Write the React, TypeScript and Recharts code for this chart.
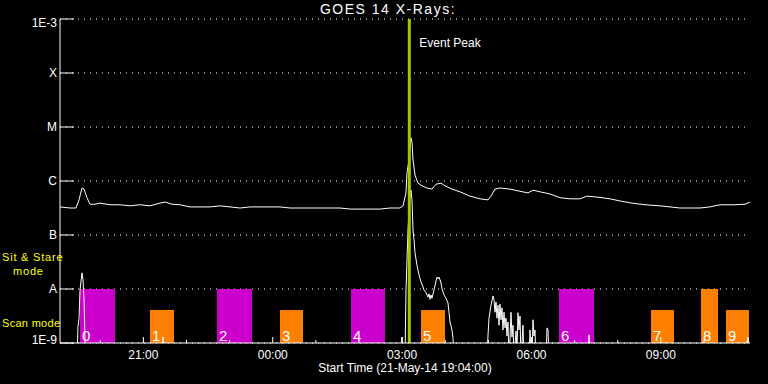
import {
  ComposedChart,
  Line,
  XAxis,
  YAxis,
  CartesianGrid,
  ReferenceArea,
  ReferenceLine,
} from 'recharts';

// time axis: hours since 21-May-14 19:04:00
const START_LABEL = 'Start Time (21-May-14 19:04:00)';
const DOMAIN_HOURS = 16;
const EVENT_PEAK_HOURS = 8.1; // ~03:10

const hourTickLabels = [
  '20:00', '21:00', '22:00', '23:00', '00:00', '01:00', '02:00', '03:00',
  '04:00', '05:00', '06:00', '07:00', '08:00', '09:00', '10:00', '11:00',
];
const majorTickLabels = ['21:00', '00:00', '03:00', '06:00', '09:00'];
const FIRST_TICK_HOURS = 56 / 60; // 20:00 is 56 min after start
const hourTicks = hourTickLabels.map((_, i) => FIRST_TICK_HOURS + i);

// flux axis, log10(W/m^2)
const levelTicks = [-9, -8, -7, -6, -5, -4, -3];
const levelLabels = ['1E-9', 'A', 'B', 'C', 'M', 'X', '1E-3'];

// GOES 1-8 A channel
const longTime = [
  0, 0.232, 0.371, 0.441, 0.51, 0.557, 0.626, 0.696, 0.812, 0.928, 1.159, 1.391,
  1.623, 1.855, 2.087, 2.319, 2.435, 2.597, 2.783, 3.014, 3.246, 3.478, 3.71, 3.942,
  4.174, 4.406, 4.638, 4.87, 5.101, 5.333, 5.565, 5.797, 6.029, 6.261, 6.493, 6.725,
  6.957, 7.188, 7.42, 7.652, 7.884, 7.954, 8.023, 8.046, 8.093, 8.139, 8.162, 8.186,
  8.232, 8.301, 8.394, 8.51, 8.626, 8.719, 8.835, 8.928, 9.09, 9.275, 9.507, 9.739,
  9.925, 9.994, 10.087, 10.203, 10.435, 10.667, 10.852, 10.968, 11.13, 11.362, 11.594,
  11.826, 12.058, 12.22, 12.475, 12.754, 12.986, 13.264, 13.565, 13.913, 14.377,
  14.841, 15.072, 15.304, 15.652, 15.884, 16,
];
const longFlux = [
  -6.48, -6.5, -6.5, -6.35, -6.13, -6.15, -6.31, -6.43, -6.43, -6.41, -6.44, -6.44,
  -6.46, -6.44, -6.46, -6.41, -6.39, -6.43, -6.44, -6.48, -6.48, -6.48, -6.46, -6.48,
  -6.5, -6.48, -6.48, -6.48, -6.48, -6.5, -6.5, -6.5, -6.5, -6.5, -6.5, -6.52,
  -6.52, -6.52, -6.52, -6.5, -6.5, -6.46, -6.22, -5.85, -5.61, -5.2, -5.28, -5.61,
  -5.89, -6.04, -6.09, -6.13, -6.15, -6.06, -6.04, -6.09, -6.15, -6.2, -6.28, -6.33,
  -6.35, -6.28, -6.15, -6.13, -6.15, -6.19, -6.22, -6.17, -6.2, -6.24, -6.31,
  -6.33, -6.33, -6.28, -6.3, -6.33, -6.37, -6.41, -6.44, -6.46, -6.5,
  -6.5, -6.48, -6.44, -6.44, -6.43, -6.39,
];

// GOES 0.5-4 A channel (mostly under 1E-9)
const shortTime = [
  0, 0.394, 0.417, 0.441, 0.464, 0.51, 0.533, 0.557, 0.58, 0.603,
  2.365, 2.388, 2.412, 7.907, 7.93, 7.954, 8.0, 8.023, 8.07, 8.116, 8.139, 8.162,
  8.186, 8.209, 8.232, 8.278, 8.325, 8.371, 8.417, 8.441, 8.487, 8.533, 8.557, 8.58,
  8.603, 8.626, 8.672, 8.719, 8.742, 8.765, 8.788, 8.812, 8.835, 8.858, 8.904, 8.951,
  8.997, 9.02, 9.043, 9.09, 9.113, 9.136, 9.901, 9.925, 9.948, 9.994, 10.041, 10.064,
  10.087, 10.11, 10.133, 10.157, 10.18, 10.203, 10.226, 10.249, 10.272, 10.296, 10.319,
  10.342, 10.365, 10.388, 10.412, 10.435, 10.458, 10.481, 10.504, 10.528, 10.574,
  10.597, 10.62, 10.643, 10.667, 10.69, 10.736, 10.759, 10.875, 10.899, 10.922, 10.945,
  10.968, 10.991, 11.014, 11.038, 11.27, 11.293, 11.316, 11.339, 12.243, 12.267, 12.29,
  15.93, 15.954, 15.977, 16,
];
const shortFlux = [
  -9.3, -9.3, -8.69, -8.55, -8.02, -7.7, -7.83, -8.2, -8.94, -9.3,
  -9.3, -8.89, -9.3, -9.3, -8.89, -9.3, -9.3, -8.02, -6.9, -6.25, -6.17, -6.35,
  -6.91, -7.09, -7.33, -7.56, -7.74, -7.87, -7.96, -8.02, -8.07, -8.15, -8.09, -8.19,
  -8.11, -8.17, -8.02, -7.85, -7.78, -7.81, -7.78, -7.83, -7.89, -8.0, -8.11, -8.17,
  -8.26, -8.43, -8.61, -8.76, -8.91, -9.3, -9.3, -8.85, -8.54, -8.3, -8.13, -8.2,
  -8.43, -8.24, -8.54, -8.3, -8.67, -8.28, -8.57, -8.35, -8.76, -8.43, -8.72,
  -8.54, -8.87, -8.61, -9.3, -8.93, -8.43, -8.89, -8.67, -9.3, -8.78,
  -9.1, -8.44, -8.76, -8.5, -9.3, -8.67, -9.3, -9.3, -8.76, -9.3, -9.3,
  -8.57, -8.87, -8.76, -9.3, -9.3, -8.72, -8.76, -9.3, -9.3, -8.85, -9.3,
  -9.3, -8.89, -9.3, -9.3,
];

// instrument observing modes
const modeIds = ['0', '1', '2', '3', '4', '5', '6', '7', '8', '9'];
const modeStart = [0.464, 2.087, 3.641, 5.101, 6.748, 8.371, 11.571, 13.704, 14.864, 15.443];
const modeEnd = [1.275, 2.643, 4.452, 5.635, 7.536, 8.928, 12.383, 14.238, 15.258, 15.977];
const modeKind = ['stare', 'scan', 'stare', 'scan', 'stare', 'scan', 'stare', 'scan', 'scan', 'scan'];
const modeTop = [-8, -8.39, -8, -8.39, -8, -8.39, -8, -8.39, -8, -8.39];

const MODE_COLORS: Record<string, string> = {
  stare: '#cc00cc',
  scan: '#ff8000',
};

const FONT = '"Liberation Sans", Arial, sans-serif';

const longData = longTime.map((t, i) => ({ t, v: longFlux[i] }));
const shortData = shortTime.map((t, i) => ({ t, v: shortFlux[i] }));

function isMajor(value: number) {
  const idx = hourTicks.findIndex((h) => Math.abs(h - value) < 1e-6);
  return idx >= 0 && majorTickLabels.includes(hourTickLabels[idx]) ? hourTickLabels[idx] : null;
}

function BottomTick(props: any) {
  const { x, y, payload } = props;
  const label = isMajor(payload.value);
  return (
    <g>
      <line x1={x} y1={y} x2={x} y2={y - (label ? 6 : 3)} stroke="#fff" />
      {label && (
        <text x={x} y={y + 16} textAnchor="middle" fill="#fff" fontSize={12} fontFamily={FONT}>
          {label}
        </text>
      )}
    </g>
  );
}

function TopTick(props: any) {
  const { x, y, payload } = props;
  const label = isMajor(payload.value);
  return <line x1={x} y1={y} x2={x} y2={y + (label ? 7 : 3)} stroke="#fff" />;
}

function LeftTick(props: any) {
  const { x, y, payload } = props;
  const v = payload.value;
  const label = levelLabels[levelTicks.indexOf(v)];
  const shift = v === -3 ? 4 : v === -9 ? -3 : 0;
  return (
    <g>
      <line x1={x} y1={y} x2={x + 14} y2={y} stroke="#fff" />
      <text x={x - 3} y={y + shift} dy="0.35em" textAnchor="end" fill="#fff" fontSize={12} fontFamily={FONT}>
        {label}
      </text>
    </g>
  );
}

function RightTick(props: any) {
  const { x, y } = props;
  return <line x1={x - 14} y1={y} x2={x} y2={y} stroke="#fff" />;
}

export default function App() {
  return (
    <div style={{ position: 'absolute', left: 0, top: 0, width: 768, height: 384, background: '#000' }}>
      <ComposedChart width={768} height={384} margin={{ top: 19, right: 18, bottom: 0, left: 0 }}>
        <XAxis
          type="number"
          dataKey="t"
          domain={[0, DOMAIN_HOURS]}
          ticks={hourTicks}
          interval={0}
          height={41}
          allowDataOverflow
          axisLine={{ stroke: '#fff' }}
          tickLine={false}
          tickSize={0}
          tickMargin={0}
          tick={<BottomTick />}
        />
        <XAxis
          xAxisId="top"
          orientation="top"
          type="number"
          domain={[0, DOMAIN_HOURS]}
          ticks={hourTicks}
          interval={0}
          height={0}
          allowDataOverflow
          axisLine={{ stroke: '#fff' }}
          tickLine={false}
          tickSize={0}
          tickMargin={0}
          tick={<TopTick />}
        />
        <YAxis
          type="number"
          domain={[-9, -3]}
          ticks={levelTicks}
          interval={0}
          width={60}
          allowDataOverflow
          axisLine={{ stroke: '#fff' }}
          tickLine={false}
          tickSize={0}
          tickMargin={0}
          tick={<LeftTick />}
        />
        <YAxis
          yAxisId="right"
          orientation="right"
          type="number"
          domain={[-9, -3]}
          ticks={levelTicks}
          interval={0}
          width={0}
          allowDataOverflow
          axisLine={{ stroke: '#fff' }}
          tickLine={false}
          tickSize={0}
          tickMargin={0}
          tick={<RightTick />}
        />
        <CartesianGrid horizontal vertical={false} stroke="#fff" strokeDasharray="1 5" />
        {modeIds.map((id, i) => (
          <ReferenceArea
            key={id}
            x1={modeStart[i]}
            x2={modeEnd[i]}
            y1={-9}
            y2={modeTop[i]}
            fill={MODE_COLORS[modeKind[i]]}
            fillOpacity={1}
            stroke="none"
            label={{
              value: id,
              position: 'insideBottomLeft',
              offset: 2,
              fill: '#fff',
              fontSize: 15,
              fontFamily: FONT,
            }}
          />
        ))}
        <Line
          data={shortData}
          dataKey="v"
          type="linear"
          stroke="#fff"
          strokeWidth={1}
          dot={false}
          isAnimationActive={false}
        />
        <Line
          data={longData}
          dataKey="v"
          type="linear"
          stroke="#fff"
          strokeWidth={1}
          dot={false}
          isAnimationActive={false}
        />
        <ReferenceLine
          x={EVENT_PEAK_HOURS}
          stroke="#a0c800"
          strokeWidth={3}
          label={{
            content: (p: any) => (
              <text x={p.viewBox.x + 10} y={47} fill="#fff" fontSize={12} fontFamily={FONT}>
                Event Peak
              </text>
            ),
          }}
        />
      </ComposedChart>
      <svg
        width={768}
        height={384}
        style={{ position: 'absolute', left: 0, top: 0, pointerEvents: 'none' }}
        fontFamily={FONT}
      >
        <text x={388} y={14} textAnchor="middle" fill="#fff" fontSize={14} letterSpacing={1.5}>
          GOES 14 X-Rays:
        </text>
        <text x={405} y={372} textAnchor="middle" fill="#fff" fontSize={12}>
          {START_LABEL}
        </text>
        <text x={2} y={261} fill="#ffff00" fontSize={11} letterSpacing={0.8}>
          Sit &amp; Stare
        </text>
        <text x={13} y={275} fill="#ffff00" fontSize={11} letterSpacing={0.8}>
          mode
        </text>
        <text x={2} y={327} fill="#ffff00" fontSize={11} letterSpacing={0.3}>
          Scan mode
        </text>
      </svg>
    </div>
  );
}
